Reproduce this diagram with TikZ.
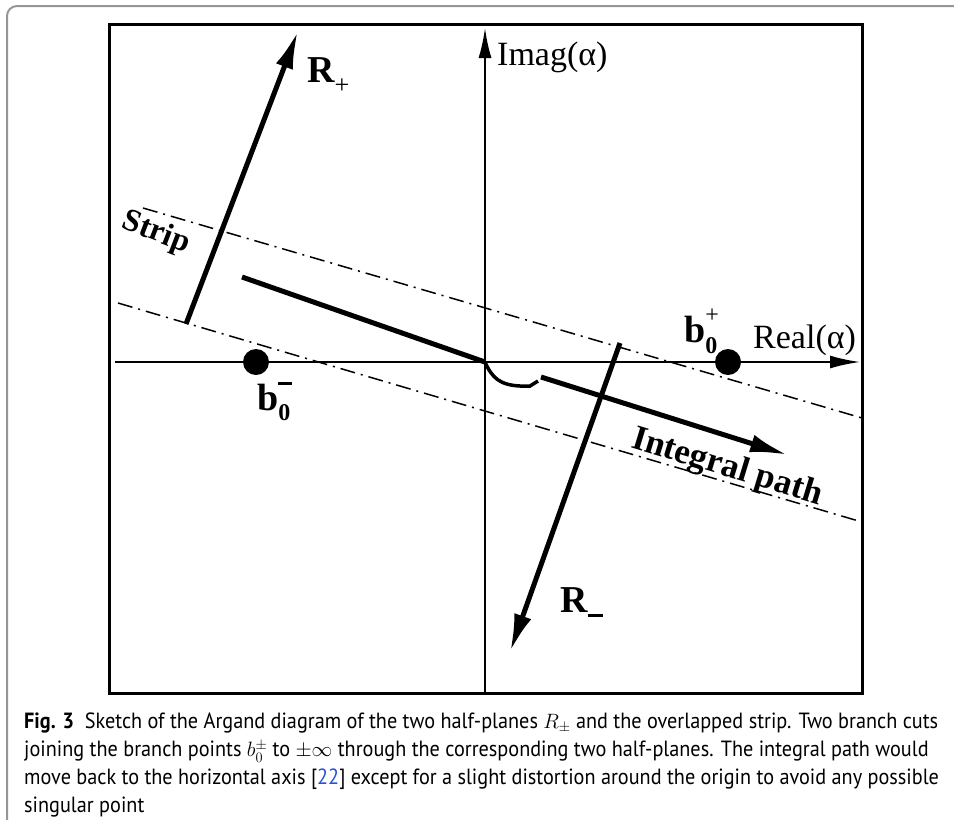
\documentclass[tikz,border=0pt]{standalone}
\usepackage{fontspec}
\setmainfont{Liberation Serif}
\newfontfamily\capfont[FakeStretch=0.92]{PT Sans}
\usetikzlibrary{arrows.meta}

\definecolor{framegray}{RGB}{150,150,150}
\definecolor{citeblue}{RGB}{40,80,220}

% small index set low or high beside a bold letter
\newcommand{\lowidx}[2]{\raisebox{#1}{\fontsize{26}{26}\selectfont #2}}
\newcommand{\bpoint}[3]{\textbf{b}\rlap{\raisebox{#1}{#3}}\raisebox{#2}{\fontsize{24}{24}\selectfont\bfseries 0}}

\tikzset{
  axis/.style={line width=2pt,-{Latex[length=30pt,width=13pt]}},
  cut/.style={line width=5pt,-{Latex[length=38pt,width=18pt]}},
  stripline/.style={line width=1.5pt,dash pattern=on 15pt off 6pt on 2pt off 6pt},
  lbl/.style={inner sep=0pt,font=\fontsize{34}{34}\selectfont},
  blbl/.style={inner sep=0pt,font=\fontsize{38}{38}\selectfont\bfseries},
  branchpt/.style={circle,fill=black,inner sep=0pt,minimum size=26pt}
}

\begin{document}
\begin{tikzpicture}[x=1pt,y=-1pt]
\useasboundingbox (0,0) rectangle (954,820);

% page frame
\draw[framegray,line width=2pt,rounded corners=10pt] (7,820) -- (7,6) -- (954,6);

% Argand plane
\draw[line width=3pt] (109,24) rectangle (862,693);
\coordinate (O) at (485,362);
\coordinate (west) at (115,362);
\coordinate (east) at (860,362);
\coordinate (south) at (485,693);
\coordinate (north) at (485,28);
\draw[axis] (west) -- (east);
\draw[axis] (south) -- (north);
\node[lbl,anchor=base west] (imag) at (497,65) {Imag(α)};
\node[lbl,anchor=base west] (real) at (753,348) {Real(α)};

% strip
\draw[stripline] (143,208) -- (862,418);
\draw[stripline] (118,303) -- (862,522);
\node[blbl,font=\fontsize{32}{32}\selectfont\bfseries,rotate=-21] (strip) at (156,233) {Strip};

% branch points
\node[branchpt] (bminus) at (256,362) {};
\node[branchpt] (bplus) at (728,362) {};
\node[blbl,anchor=base west] (bminuslbl) at (257,410) {\bpoint{25pt}{-10pt}{\rule{14pt}{3pt}}};
\node[blbl,anchor=base west] (bpluslbl) at (684,342) {\bpoint{20pt}{-11pt}{\fontsize{24}{24}\selectfont\mdseries+}};

% half-planes
\coordinate (rpfoot) at (186,324);
\coordinate (rptip) at (298,31);
\coordinate (rmfoot) at (620,343);
\coordinate (rmtip) at (510,652);
\draw[cut] (rpfoot) -- (rptip);
\draw[cut] (rmfoot) -- (rmtip);
\node[blbl,anchor=base west] (rplus) at (307,82) {R\lowidx{-11pt}{\mdseries+}};
\node[blbl,anchor=base west] (rminus) at (560,612) {R\lowidx{-5pt}{\rule{15pt}{3pt}}};

% integral path
\coordinate (pstart) at (242,277);
\coordinate (kink) at (541,377);
\coordinate (ptip) at (788,455);
\draw[line width=5pt] (pstart) -- (O);
\draw[line width=3.5pt] (O) .. controls (492,378) and (500,385) .. (520,386) -- (530,386) -- (538,381);
\draw[cut] (kink) -- (ptip);
\node[blbl,font=\fontsize{35}{35}\selectfont\bfseries,rotate=-17] (pathlbl) at (727,468) {Integral path};

% caption
\node[anchor=north west,inner sep=0pt,align=left,font=\capfont\fontsize{22}{28}\selectfont] (caption) at (24,713)
{{\bfseries Fig. 3}\ \ Sketch of the Argand diagram of the two half-planes $R_{\pm}$ and the overlapped strip. Two branch cuts\\
joining the branch points $b_0^{\pm}$ to $\pm\infty$ through the corresponding two half-planes. The integral path would\\
move back to the horizontal axis [{\color{citeblue}22}] except for a slight distortion around the origin to avoid any possible\\
singular point};
\end{tikzpicture}
\end{document}
